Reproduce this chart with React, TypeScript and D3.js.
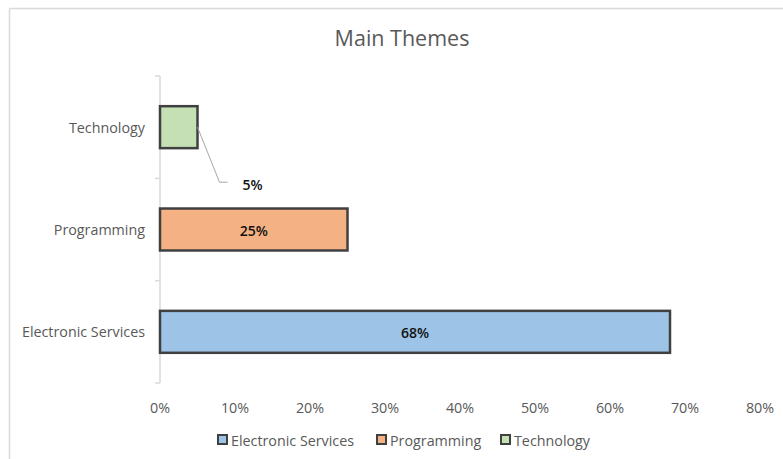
import React from "react";
import * as d3 from "d3";

const categories = ["Electronic Services", "Programming", "Technology"];
const values = [0.68, 0.25, 0.05];
const colors = ["#9dc3e6", "#f4b183", "#c5e0b4"];
const xTicks = [0, 0.1, 0.2, 0.3, 0.4, 0.5, 0.6, 0.7, 0.8];
const title = "Main Themes";

const W = 783;
const H = 459;
const FONT = "'Open Sans', 'Noto Sans', sans-serif";

export default function App() {
  const x = d3.scaleLinear().domain([0, 0.8]).range([160, 760]);
  const yCats = [...categories].reverse();
  const y = d3.scaleBand<string>().domain(yCats).range([76, 383]).paddingInner(0).paddingOuter(0);
  const barH = y.bandwidth() * 0.41;
  const fmt = d3.format(".0%");
  const bandEdges = [...yCats.map((c) => y(c) as number), 383];

  const legendItems = [
    { name: categories[0], color: colors[0], x: 218 },
    { name: categories[1], color: colors[1], x: 377 },
    { name: categories[2], color: colors[2], x: 501 },
  ];

  return (
    <svg
      width={W}
      height={H}
      style={{ position: "absolute", left: 0, top: 0, background: "#fff" }}
      fontFamily={FONT}
    >
      <rect x={0} y={0} width={W} height={H} fill="#fff" />
      <line x1={9.5} y1={8.5} x2={W} y2={8.5} stroke="#d9d9d9" strokeWidth={1.5} />
      <line x1={9.5} y1={8.5} x2={9.5} y2={H} stroke="#d9d9d9" strokeWidth={1.5} />

      <text x={402} y={46} textAnchor="middle" fontSize={21.5} fill="#595959">
        {title}
      </text>

      <line x1={160} y1={76} x2={160} y2={383} stroke="#d9d9d9" strokeWidth={1.5} />
      {bandEdges.map((e, i) => (
        <line key={i} x1={155} y1={e} x2={160} y2={e} stroke="#d9d9d9" strokeWidth={1.5} />
      ))}

      {yCats.map((c) => (
        <text
          key={c}
          x={145}
          y={(y(c) as number) + y.bandwidth() / 2}
          textAnchor="end"
          dominantBaseline="central"
          fontSize={14.3}
          fill="#595959"
        >
          {c}
        </text>
      ))}

      {categories.map((c, i) => {
        const cy = (y(c) as number) + y.bandwidth() / 2;
        return (
          <rect
            key={c}
            x={x(0)}
            y={cy - barH / 2}
            width={x(values[i]) - x(0)}
            height={barH}
            fill={colors[i]}
            stroke="#404040"
            strokeWidth={2.5}
          />
        );
      })}

      {categories.map((c, i) => {
        const cy = (y(c) as number) + y.bandwidth() / 2;
        const v = values[i];
        if (v < 0.1) {
          const ex = x(v);
          return (
            <g key={c}>
              <polyline
                points={`${ex},${cy} ${ex + 22},${cy + 55} ${ex + 30},${cy + 55}`}
                fill="none"
                stroke="#a6a6a6"
                strokeWidth={1}
              />
              <text x={ex + 55} y={cy + 57} textAnchor="middle" dominantBaseline="central" fontSize={14} fontWeight={600} fill="#111">
                {fmt(v)}
              </text>
            </g>
          );
        }
        return (
          <text
            key={c}
            x={(x(0) + x(v)) / 2}
            y={cy + 1}
            textAnchor="middle"
            dominantBaseline="central"
            fontSize={14}
            fontWeight={600}
            fill="#111"
          >
            {fmt(v)}
          </text>
        );
      })}

      {xTicks.map((t) => (
        <text key={t} x={x(t)} y={407} textAnchor="middle" dominantBaseline="central" fontSize={14.3} fill="#595959">
          {fmt(t)}
        </text>
      ))}

      {legendItems.map((l) => (
        <g key={l.name}>
          <rect x={l.x} y={435} width={9} height={9} fill={l.color} stroke="#404040" strokeWidth={2} />
          <text x={l.x + 13} y={440} dominantBaseline="central" fontSize={14.3} fill="#595959">
            {l.name}
          </text>
        </g>
      ))}
    </svg>
  );
}
